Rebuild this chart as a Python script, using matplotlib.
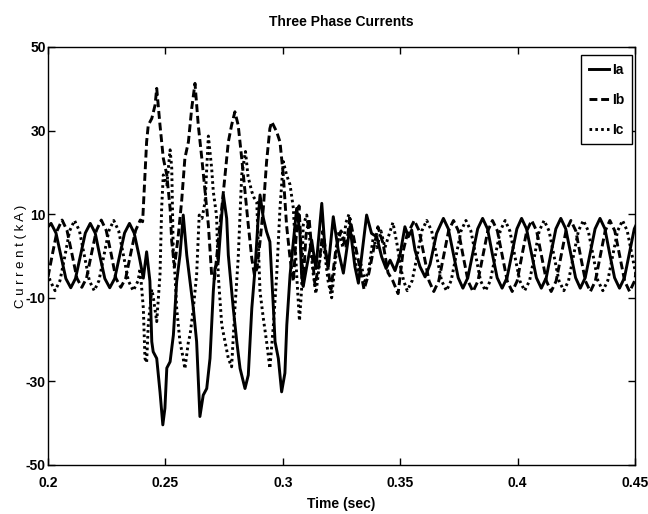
import matplotlib
matplotlib.use("Agg")
import matplotlib.pyplot as plt

# ---------------- data ----------------
ia_t = [0.2000, 0.2013, 0.2034, 0.2055, 0.2076, 0.2097, 0.2117, 0.2138, 0.2159, 0.2180,
        0.2201, 0.2221, 0.2242, 0.2263, 0.2284, 0.2305, 0.2326, 0.2347, 0.2367, 0.2388,
        0.2406, 0.2420, 0.2434, 0.2442, 0.2448, 0.2463, 0.2477, 0.2489, 0.2498, 0.2506,
        0.2520, 0.2534, 0.2548, 0.2562, 0.2576, 0.2591, 0.2605, 0.2619, 0.2633, 0.2647,
        0.2661, 0.2676, 0.2690, 0.2704, 0.2711, 0.2725, 0.2740, 0.2747, 0.2761, 0.2768,
        0.2789, 0.2804, 0.2818, 0.2839, 0.2853, 0.2868, 0.2882, 0.2894, 0.2903, 0.2917,
        0.2931, 0.2945, 0.2960, 0.2967, 0.2981, 0.2995, 0.3009, 0.3017, 0.3031, 0.3045,
        0.3059, 0.3073, 0.3080, 0.3087, 0.3102, 0.3123, 0.3141, 0.3166, 0.3180, 0.3194,
        0.3215, 0.3236, 0.3258, 0.3286, 0.3307, 0.3322, 0.3357, 0.3378, 0.3400, 0.3421,
        0.3440, 0.3457, 0.3478, 0.3499, 0.3520, 0.3535, 0.3549, 0.3563, 0.3584, 0.3606,
        0.3627, 0.3655, 0.3684, 0.3705, 0.3726, 0.3747, 0.3767, 0.3788, 0.3809, 0.3830,
        0.3851, 0.3872, 0.3892, 0.3913, 0.3934, 0.3955, 0.3976, 0.3997, 0.4017, 0.4038,
        0.4059, 0.4080, 0.4101, 0.4122, 0.4142, 0.4163, 0.4184, 0.4205, 0.4226, 0.4247,
        0.4267, 0.4288, 0.4309, 0.4330, 0.4351, 0.4372, 0.4392, 0.4413, 0.4434, 0.4455,
        0.4476, 0.4497, 0.4518]
ia_v = [7.0, 7.8, 5.5, 0.0, -5.4, -7.6, -5.4, 0.0, 5.5, 7.8,
        5.5, 0.0, -5.4, -7.6, -5.4, 0.0, 5.5, 7.8, 5.5, 0.0,
        -5.3, 1.0, -6.0, -20.5, -22.9, -24.5, -32.5, -40.4, -36.4, -26.8,
        -25.3, -18.9, -6.1, 0.2, 9.8, 0.2, -6.1, -12.5, -20.5, -38.4,
        -33.3, -31.7, -24.5, -8.5, -2.9, -1.4, 9.8, 14.6, 9.0, 0.2,
        -12.5, -20.5, -26.9, -31.7, -28.5, -12.5, -2.9, 8.0, 14.6, 9.1,
        5.8, 3.4, -12.5, -20.5, -24.5, -32.5, -28.0, -16.5, -4.5, 3.4,
        11.4, 5.5, -4.5, -7.3, -2.5, 3.8, -3.0, 12.6, 1.4, -2.5,
        9.4, 1.4, -4.1, 7.0, -2.5, -6.5, 9.8, 5.4, 4.6, -0.2,
        -3.0, -1.0, -3.5, 0.2, 7.0, 4.6, 6.2, 1.4, -2.5, -5.0,
        -2.0, 5.4, 9.0, 6.5, 0.6, -5.2, -7.7, -5.2, 0.6, 6.5,
        9.0, 6.5, 0.6, -5.2, -7.7, -5.2, 0.6, 6.5, 9.0, 6.5,
        0.6, -5.2, -7.7, -5.2, 0.6, 6.5, 9.0, 6.5, 0.6, -5.2,
        -7.7, -5.2, 0.6, 6.5, 9.0, 6.5, 0.6, -5.2, -7.7, -5.2,
        0.6, 6.5, 9.0]

ib_t = [0.2000, 0.2019, 0.2039, 0.2060, 0.2081, 0.2102, 0.2123, 0.2144, 0.2164, 0.2185,
        0.2206, 0.2227, 0.2248, 0.2269, 0.2289, 0.2310, 0.2331, 0.2352, 0.2373, 0.2393,
        0.2403, 0.2413, 0.2420, 0.2427, 0.2442, 0.2456, 0.2463, 0.2477, 0.2491, 0.2506,
        0.2520, 0.2527, 0.2539, 0.2555, 0.2569, 0.2583, 0.2598, 0.2612, 0.2626, 0.2640,
        0.2655, 0.2669, 0.2683, 0.2697, 0.2709, 0.2725, 0.2740, 0.2754, 0.2768, 0.2782,
        0.2796, 0.2810, 0.2825, 0.2839, 0.2853, 0.2868, 0.2879, 0.2890, 0.2903, 0.2917,
        0.2931, 0.2945, 0.2953, 0.2974, 0.2988, 0.3002, 0.3016, 0.3031, 0.3045, 0.3056,
        0.3069, 0.3078, 0.3086, 0.3099, 0.3112, 0.3124, 0.3137, 0.3154, 0.3171, 0.3188,
        0.3205, 0.3227, 0.3248, 0.3269, 0.3286, 0.3307, 0.3329, 0.3346, 0.3367, 0.3388,
        0.3405, 0.3427, 0.3448, 0.3469, 0.3491, 0.3512, 0.3529, 0.3560, 0.3581, 0.3602,
        0.3623, 0.3643, 0.3664, 0.3685, 0.3706, 0.3727, 0.3748, 0.3768, 0.3789, 0.3810,
        0.3831, 0.3852, 0.3873, 0.3893, 0.3914, 0.3935, 0.3956, 0.3977, 0.3998, 0.4018,
        0.4039, 0.4060, 0.4081, 0.4102, 0.4123, 0.4143, 0.4164, 0.4185, 0.4206, 0.4227,
        0.4248, 0.4268, 0.4289, 0.4310, 0.4331, 0.4352, 0.4373, 0.4393, 0.4414, 0.4435,
        0.4456, 0.4477, 0.4498, 0.4518]
ib_v = [-5.0, 0.5, 6.1, 8.6, 6.1, 0.5, -5.3, -7.5, -5.3, 0.5,
        6.1, 8.6, 6.1, 0.5, -5.3, -7.5, -5.3, 0.5, 6.1, 8.6,
        8.2, 19.4, 27.3, 31.3, 32.9, 36.1, 40.1, 31.3, 23.4, 19.4,
        11.4, 3.4, -2.5, 5.0, 13.0, 23.4, 27.3, 35.3, 41.3, 31.3,
        23.4, 15.4, 7.4, -4.5, -5.5, 3.4, 11.4, 19.4, 27.3, 31.3,
        34.5, 31.3, 23.4, 15.4, 7.4, -0.6, -4.5, -3.0, 3.4, 11.4,
        22.6, 30.5, 32.1, 29.7, 27.3, 19.4, 7.4, -0.6, -6.1, 4.0,
        12.0, 2.0, -7.0, 5.0, 9.0, 1.0, -7.0, -2.0, 6.0, -1.0,
        -8.0, 2.0, 6.0, 2.0, 9.0, 3.0, -3.0, -8.0, -4.0, 2.0,
        7.0, 3.0, -4.0, -6.0, -9.0, 1.0, 5.0, 8.5, 6.0, 0.0,
        -6.0, -8.5, -6.0, 0.0, 6.0, 8.5, 6.0, 0.0, -6.0, -8.5,
        -6.0, 0.0, 6.0, 8.5, 6.0, 0.0, -6.0, -8.5, -6.0, 0.0,
        6.0, 8.5, 6.0, 0.0, -6.0, -8.5, -6.0, 0.0, 6.0, 8.5,
        6.0, 0.0, -6.0, -8.5, -6.0, 0.0, 6.0, 8.5, 6.0, 0.0,
        -6.0, -8.5, -6.0, 0.0]

ic_t = [0.2000, 0.2009, 0.2030, 0.2051, 0.2072, 0.2092, 0.2113, 0.2134, 0.2155, 0.2176,
        0.2197, 0.2217, 0.2238, 0.2259, 0.2280, 0.2301, 0.2322, 0.2342, 0.2363, 0.2384,
        0.2392, 0.2406, 0.2413, 0.2420, 0.2427, 0.2442, 0.2448, 0.2463, 0.2477, 0.2484,
        0.2491, 0.2506, 0.2520, 0.2527, 0.2534, 0.2541, 0.2548, 0.2562, 0.2576, 0.2583,
        0.2598, 0.2605, 0.2619, 0.2633, 0.2644, 0.2656, 0.2669, 0.2683, 0.2697, 0.2704,
        0.2718, 0.2725, 0.2740, 0.2754, 0.2768, 0.2782, 0.2796, 0.2810, 0.2825, 0.2841,
        0.2852, 0.2868, 0.2877, 0.2889, 0.2903, 0.2917, 0.2931, 0.2945, 0.2960, 0.2974,
        0.2988, 0.3002, 0.3016, 0.3031, 0.3045, 0.3059, 0.3071, 0.3080, 0.3087, 0.3102,
        0.3116, 0.3129, 0.3141, 0.3154, 0.3167, 0.3180, 0.3193, 0.3208, 0.3222, 0.3239,
        0.3256, 0.3269, 0.3282, 0.3299, 0.3316, 0.3333, 0.3350, 0.3367, 0.3384, 0.3401,
        0.3418, 0.3435, 0.3452, 0.3469, 0.3486, 0.3503, 0.3515, 0.3530, 0.3551, 0.3572,
        0.3592, 0.3613, 0.3634, 0.3655, 0.3676, 0.3697, 0.3717, 0.3738, 0.3759, 0.3780,
        0.3801, 0.3822, 0.3842, 0.3863, 0.3884, 0.3905, 0.3926, 0.3947, 0.3967, 0.3988,
        0.4009, 0.4030, 0.4051, 0.4072, 0.4092, 0.4113, 0.4134, 0.4155, 0.4176, 0.4197,
        0.4217, 0.4238, 0.4259, 0.4280, 0.4301, 0.4322, 0.4342, 0.4363, 0.4384, 0.4405,
        0.4426, 0.4447, 0.4467, 0.4488, 0.4509]
ic_v = [-4.0, -5.9, -8.3, -5.9, 0.0, 6.0, 8.5, 6.0, 0.0, -5.9,
        -8.3, -5.9, 0.0, 6.0, 8.5, 6.0, 0.0, -5.9, -8.3, -5.9,
        -3.0, -12.5, -24.5, -25.5, -16.5, -8.0, -9.7, -15.7, -4.5, 11.4,
        19.4, 17.0, 25.4, 21.0, -0.6, -4.5, -12.5, -20.5, -24.5, -27.0,
        -20.5, -18.9, -12.5, -4.5, 9.8, 9.0, 13.0, 28.7, 21.0, 15.4,
        9.6, -4.5, -16.5, -20.5, -24.5, -26.5, -12.5, -0.6, 19.4, 25.0,
        19.0, 15.4, 14.0, 13.0, -8.5, -14.9, -20.5, -26.9, -16.5, -4.5,
        11.4, 22.6, 19.4, 17.0, 11.4, -4.5, -15.5, -8.0, 7.4, 9.8,
        3.4, -4.0, -9.0, -3.0, 4.0, 0.0, -6.0, -10.0, -2.0, 6.0,
        2.0, 8.0, 10.0, 3.0, -4.0, -2.0, -6.0, -3.0, 4.0, 2.0,
        6.0, 2.0, 5.0, 8.0, 3.0, -3.0, -6.0, -8.3, -5.9, 0.0,
        6.0, 8.5, 6.0, 0.0, -5.9, -8.3, -5.9, 0.0, 6.0, 8.5,
        6.0, 0.0, -5.9, -8.3, -5.9, 0.0, 6.0, 8.5, 6.0, 0.0,
        -5.9, -8.3, -5.9, 0.0, 6.0, 8.5, 6.0, 0.0, -5.9, -8.3,
        -5.9, 0.0, 6.0, 8.5, 6.0, 0.0, -5.9, -8.3, -5.9, 0.0,
        6.0, 8.5, 6.0, 0.0, -5.9]

series_names = ["Ia", "Ib", "Ic"]
x_ticks = [0.2, 0.25, 0.3, 0.35, 0.4, 0.45]
x_ticklabels = ["0.2", "0.25", "0.3", "0.35", "0.4", "0.45"]
y_ticks = [50, 30, 10, -10, -30, -50]
y_ticklabels = ["50", "30", "10", "-10", "-30", "-50"]

# ---------------- fonts ----------------
plt.rcParams["font.family"] = ["Liberation Sans", "DejaVu Sans"]
fs = 10

# ---------------- figure ----------------
fig = plt.figure(figsize=(6.48, 5.14), dpi=100)
ax = fig.add_axes([48 / 648, 1 - 465 / 514, 587 / 648, 418 / 514])

lw = 2.1
ax.plot(ia_t, ia_v, color="black", lw=lw, linestyle="-", label=series_names[0],
        solid_joinstyle="round")
ax.plot(ib_t, ib_v, color="black", lw=lw, linestyle=(0, (2.7, 1.3)), label=series_names[1])
ax.plot(ic_t, ic_v, color="black", lw=lw, linestyle=(0, (0.9, 1.1)), label=series_names[2])

ax.set_xlim(0.2, 0.45)
ax.set_ylim(-50, 50)
ax.set_xticks(x_ticks)
ax.set_xticklabels(x_ticklabels, fontsize=fs, fontweight="bold")
ax.set_yticks(y_ticks)
ax.set_yticklabels(y_ticklabels, fontsize=fs, fontweight="bold")

ax.tick_params(direction="in", top=True, right=True, length=5, width=1.0)
ax.tick_params(axis="x", pad=8)
ax.tick_params(axis="y", pad=1.5)
for sp in ax.spines.values():
    sp.set_linewidth(1.0)
    sp.set_color("black")

ax.set_title("Three Phase Currents", fontsize=fs, fontweight="bold", pad=15)
ax.set_xlabel("Time (sec)", fontsize=fs, fontweight="bold", labelpad=5)
ax.set_ylabel("C u r r e n t ( k A )", fontsize=9.5, fontweight="normal")
ax.yaxis.set_label_coords(-0.036, 0.5)

leg = ax.legend(loc="upper right", bbox_to_anchor=(0.995, 0.981), borderaxespad=0,
                fancybox=False, framealpha=1, edgecolor="black",
                prop={"size": fs, "weight": "bold"}, handlelength=1.5,
                handletextpad=0.2, labelspacing=1.15, borderpad=0.55)
leg.get_frame().set_linewidth(1.0)

fig.savefig("out.png", dpi=100)
